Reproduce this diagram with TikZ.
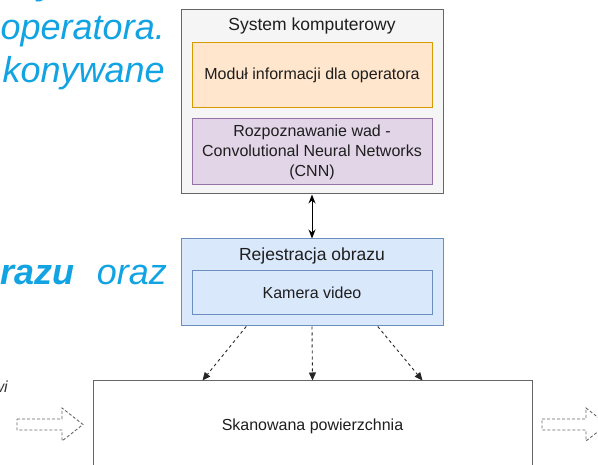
\documentclass[tikz,border=0pt]{standalone}
\usepackage{fontspec}
\setmainfont{Liberation Sans}
\usetikzlibrary{arrows.meta,calc}
\definecolor{bgblue}{HTML}{12A3E3}
\definecolor{gfill}{HTML}{F5F5F5}
\definecolor{gline}{HTML}{666666}
\definecolor{ofill}{HTML}{FFE6CC}
\definecolor{oline}{HTML}{D79B00}
\definecolor{pfill}{HTML}{E1D5E7}
\definecolor{pline}{HTML}{9673A6}
\definecolor{bfill}{HTML}{DAE8FC}
\definecolor{bline}{HTML}{6C8EBF}
\definecolor{txt}{HTML}{1E1E1E}
\tikzset{
  box/.style={draw, line width=1pt, rectangle, inner sep=0pt, align=center, text=txt,
    font=\fontsize{16}{20}\selectfont},
  ttl/.style={inner sep=0pt, text=txt, font=\fontsize{17.5}{20}\selectfont},
  bgtxt/.style={inner sep=0pt, text=bgblue, font=\fontsize{36}{40}\selectfont\itshape},
  dasharr/.style={draw=black!85, line width=0.9pt, dash pattern=on 3pt off 3pt,
    -{Triangle[length=8pt,width=7pt]}},
  hollow/.style={draw=black!60, line width=0.9pt, dash pattern=on 3pt off 2pt},
}
\begin{document}
\begin{tikzpicture}[x=1pt,y=-1pt]
\useasboundingbox (0,0) rectangle (598,465);
\clip (0,0) rectangle (598,465);
% background slide fragments
\node[bgtxt, font=\fontsize{36}{40}\selectfont\bfseries\itshape, anchor=base west] (fy) at (37,-5) {y};
\node[bgtxt, anchor=base east] (f1) at (165,40) {operatora.};
\node[bgtxt, anchor=base east] (f2) at (165,83) {konywane};
\node[bgtxt, anchor=base east] (f3) at (167,285) {{\bfseries razu}\hspace{22pt}oraz};
\node[inner sep=0pt, text=black!80, font=\fontsize{16}{20}\selectfont\itshape, anchor=base east] (f4) at (8,393) {wi};
% system box
\node[box, fill=gfill, draw=gline, minimum width=262, minimum height=184] (sys) at (312,102) {};
\node[ttl] (systitle) at (312,26) {System komputerowy};
\node[box, fill=ofill, draw=oline, minimum width=240, minimum height=65] (mod) at (312,75.5) {Moduł informacji dla operatora};
\node[box, fill=pfill, draw=pline, minimum width=240, minimum height=66] (cnn) at (312,152) {Rozpoznawanie wad -\\Convolutional Neural Networks\\(CNN)};
% registration box
\node[box, fill=bfill, draw=bline, minimum width=262, minimum height=87] (rej) at (312,282.5) {};
\node[ttl] (rejtitle) at (312,256) {Rejestracja obrazu};
\node[box, fill=bfill, draw=bline, minimum width=240, minimum height=44] (kam) at (312,293) {Kamera video};
% surface (extends below the picture's lower edge)
\node[box, fill=white, draw=gline, minimum width=439, minimum height=92] (surf) at (312.5,427) {\raisebox{5pt}{Skanowana powierzchnia}};
% connectors
\draw[line width=1pt, {Stealth[length=9pt,width=7pt]}-{Stealth[length=9pt,width=7pt]}] (sys.south) -- (rej.north);
\draw[dasharr] ($(rej.south west)!0.25!(rej.south east)$) -- ($(surf.north west)!0.25!(surf.north east)$);
\draw[dasharr] (rej.south) -- (surf.north);
\draw[dasharr] ($(rej.south west)!0.75!(rej.south east)$) -- ($(surf.north west)!0.75!(surf.north east)$);
% hollow movement arrows
\draw[hollow] (17,419) -- (62,419) -- (62,408) -- (83,424.5) -- (62,441) -- (62,430) -- (17,430) -- cycle;
\draw[hollow] (542,419) -- (586,419) -- (586,408) -- (607,424.5) -- (586,441) -- (586,430) -- (542,430) -- cycle;
\end{tikzpicture}
\end{document}
